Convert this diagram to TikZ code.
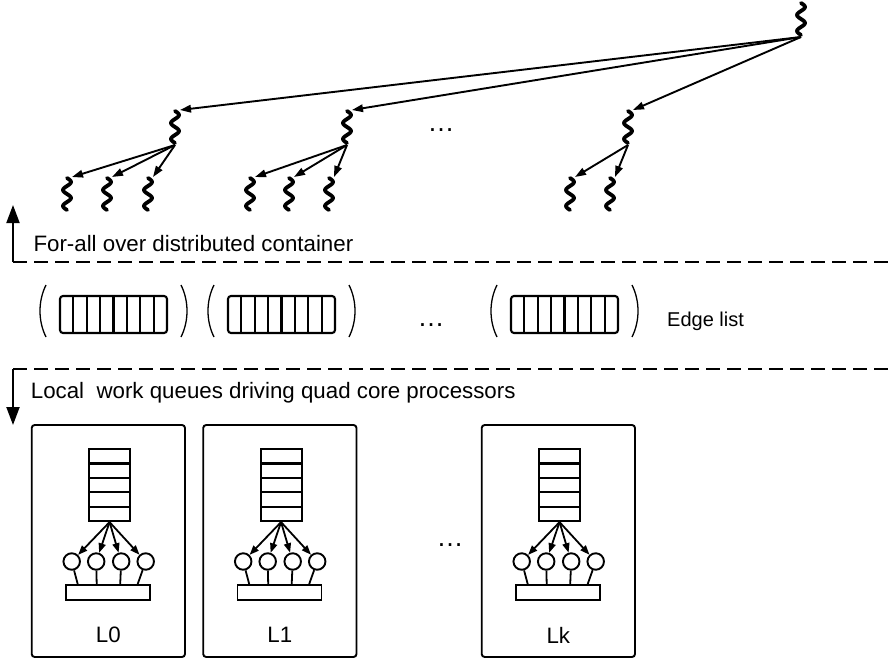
\documentclass[tikz,border=0pt]{standalone}
\usepackage{fontspec}
\setmainfont{Liberation Sans}
\usetikzlibrary{arrows.meta,shapes.geometric}
\begin{document}
\begin{tikzpicture}[x=1pt,y=-1pt,
  conn/.style={line width=1.9pt, -{Triangle[length=11pt,width=7.5pt]}},
  smallconn/.style={line width=1.8pt, -{Triangle[length=9.5pt,width=7pt]}},
  bigarrow/.style={line width=2pt, -{Triangle[length=18pt,width=13pt]}},
  squigline/.style={line width=3.8pt, line cap=round, line join=round},
  dashline/.style={line width=1.9pt, dash pattern=on 14pt off 7pt},
  lbl/.style={font=\fontsize{22.3}{26}\selectfont, inner sep=0pt},
  smlbl/.style={font=\fontsize{20}{24}\selectfont, inner sep=0pt},
  dotlbl/.style={font=\fontsize{27}{30}\selectfont, inner sep=0pt},
  cell/.style={draw, line width=2.1pt, minimum width=41pt, minimum height=14.4pt, inner sep=0pt},
  core/.style={draw, circle, line width=1.9pt, minimum size=16.5pt, inner sep=0pt},
  barbox/.style={draw, line width=1.9pt, minimum width=84pt, minimum height=15pt, inner sep=0pt},
  parenline/.style={line width=1.3pt},
  squig/.pic={
    \draw[squigline] plot[smooth, variable=\t, domain=0:32, samples=33] ({4*sin(22.5*\t)}, {\t});
    \coordinate (-in) at (5,-1);
    \coordinate (-out) at (0,34);
  },
  edgeq/.pic={
    \draw[line width=2.1pt, rounded corners=3pt] (0,0) rectangle (107,37);
    \foreach \i in {1,...,7} \draw[line width=2.1pt] ({13.375*\i},0) -- ({13.375*\i},37);
    \draw[parenline] (-14,-11) .. controls (-22,5) and (-22,25) .. (-14,41);
    \draw[parenline] (121,-11) .. controls (129,5) and (129,25) .. (121,41);
  },
  proc/.pic={
    \draw[line width=1.9pt, rounded corners=3pt] (0,0) rectangle (153.3,232);
    \foreach \k in {1,...,5}
      \node[cell, anchor=north west] (-q\k) at (56.3,{23+14.4*(\k-1)}) {};
    \node[core] (-c1) at (40,136.5) {};
    \node[core] (-c2) at (64.5,136.5) {};
    \node[core] (-c3) at (89.5,136.5) {};
    \node[core] (-c4) at (114,136.5) {};
    \node[barbox, anchor=north west] (-bar) at (33.3,159) {};
    \coordinate (-t1) at (46,159);
    \coordinate (-t2) at (65,159);
    \coordinate (-t3) at (88.5,159);
    \coordinate (-t4) at (106,159);
    \foreach \k in {1,...,4} {
      \draw[smallconn] (-q5.south) -- (-c\k);
      \draw[line width=1.8pt] (-c\k) -- (-t\k);
    }
    \node[lbl] (-lab) at (76.65,210) {#1};
  }
]
\useasboundingbox (0,0) rectangle (888,661);

% ---- task tree ----
\pic (r) at (801,3) {squig};
\pic (a) at (175,111) {squig};
\pic (b) at (347,111) {squig};
\pic (c) at (628,111) {squig};
\pic (a1) at (67,178) {squig};
\pic (a2) at (107,178) {squig};
\pic (a3) at (148,178) {squig};
\pic (b1) at (250,178) {squig};
\pic (b2) at (289,178) {squig};
\pic (b3) at (329,178) {squig};
\pic (c1) at (570,178) {squig};
\pic (c2) at (610,178) {squig};
\node[dotlbl, anchor=base] (tdots) at (441,131) {\ldots};

\foreach \n in {a,b,c} \draw[conn] (r-out) -- (\n-in);
\foreach \n in {a1,a2,a3} \draw[conn] (a-out) -- (\n-in);
\foreach \n in {b1,b2,b3} \draw[conn] (b-out) -- (\n-in);
\foreach \n in {c1,c2} \draw[conn] (c-out) -- (\n-in);

% ---- for-all separator ----
\coordinate (d1L) at (13,262);
\coordinate (d1R) at (888,262);
\coordinate (up) at (13,205);
\draw[bigarrow] (d1L) -- (up);
\draw[dashline] (d1L) -- (d1R);
\node[lbl, anchor=base west] (forall) at (33.3,251.7) {For-all over distributed container};

% ---- edge list ----
\pic (e1) at (60,296) {edgeq};
\pic (e2) at (228,296) {edgeq};
\pic (e3) at (511,296) {edgeq};
\node[dotlbl, anchor=base] (edots) at (431,326) {\ldots};
\node[smlbl, anchor=base west] (elist) at (667,326) {Edge list};

% ---- local queues separator ----
\coordinate (d2L) at (13,369);
\coordinate (d2R) at (888,369);
\coordinate (down) at (13,425);
\draw[dashline] (d2L) -- (d2R);
\draw[bigarrow] (d2L) -- (down);
\node[lbl, anchor=base west] (local) at (30.7,398.5) {Local\ \ work queues driving quad core processors};

% ---- processors ----
\pic (p0) at (31.7,425) {proc=L0};
\pic (p1) at (203.2,425) {proc=L1};
\pic (p2) at (481.7,425) {proc=Lk};
\node[dotlbl, anchor=base] (pdots) at (450,546) {\ldots};
\end{tikzpicture}
\end{document}
